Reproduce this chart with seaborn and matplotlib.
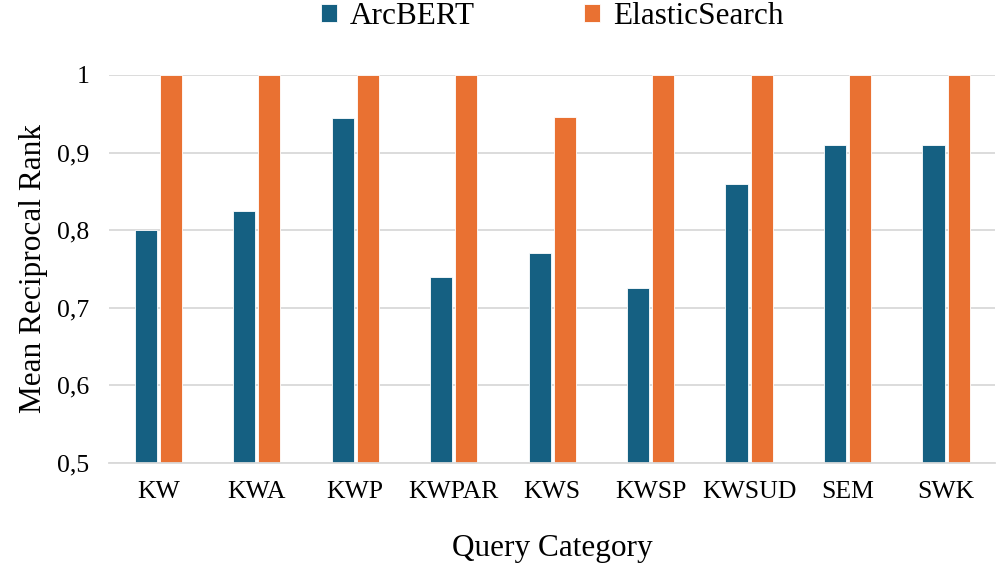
import pandas as pd
import matplotlib.pyplot as plt
import seaborn as sns
from matplotlib.ticker import FuncFormatter

# Data
categories = ["KW", "KWA", "KWP", "KWPAR", "KWS", "KWSP", "KWSUD", "SEM", "SWK"]
arcbert = [0.80, 0.825, 0.945, 0.74, 0.77, 0.725, 0.86, 0.91, 0.91]
elastic = [1.0, 1.0, 1.0, 1.0, 0.946, 1.0, 1.0, 1.0, 1.0]
systems = ["ArcBERT", "ElasticSearch"]

df = pd.DataFrame({
    "Query Category": categories * 2,
    "MRR": arcbert + elastic,
    "System": [systems[0]] * len(categories) + [systems[1]] * len(categories),
})

sns.set_style("white")
plt.rcParams["font.family"] = ["Liberation Serif", "DejaVu Serif"]
plt.rcParams["text.color"] = "black"
plt.rcParams["axes.labelcolor"] = "black"
plt.rcParams["xtick.color"] = "black"
plt.rcParams["ytick.color"] = "black"

fig = plt.figure(figsize=(9.97, 5.74), dpi=100)
ax = fig.add_axes([0.1093, 0.1934, 0.889, 0.676])

sns.barplot(data=df, x="Query Category", y="MRR", hue="System",
            palette=["#156082", "#E97132"], saturation=1, width=0.51, gap=0.12,
            edgecolor="white", linewidth=0.6, ax=ax)

ax.set_ylim(0.5, 1.0)
ax.set_yticks([0.5, 0.6, 0.7, 0.8, 0.9, 1.0])
ax.yaxis.set_major_formatter(FuncFormatter(lambda v, p: f"{v:g}".replace(".", ",")))
ax.grid(axis="y", color="#D9D9D9", linewidth=1.3)
ax.set_axisbelow(True)
for s in ["top", "right", "left"]:
    ax.spines[s].set_visible(False)
ax.spines["bottom"].set_color("#D9D9D9")
ax.spines["bottom"].set_linewidth(1.3)
ax.tick_params(axis="both", length=0, labelsize=18.5)
ax.tick_params(axis="y", pad=14)
ax.tick_params(axis="x", pad=13)

ax.set_xlabel("Query Category", fontsize=22.5, labelpad=22)
ax.set_ylabel("Mean Reciprocal Rank", fontsize=22.5, labelpad=7)

ax.legend(loc="lower center", bbox_to_anchor=(0.5, 1.08), ncol=2, frameon=False,
          fontsize=22.5, handlelength=0.52, handleheight=0.5, handletextpad=0.4,
          columnspacing=3.5, borderaxespad=0)

plt.savefig("out.png", dpi=100)
